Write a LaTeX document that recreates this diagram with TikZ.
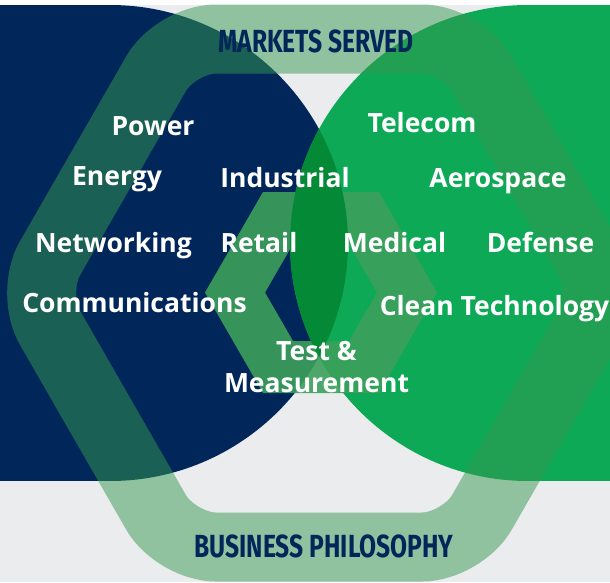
\documentclass[tikz,border=0pt]{standalone}
\usepackage{fontspec}
\setmainfont{Open Sans}
\newfontfamily\headfont{Fira Sans}[FakeStretch=0.77]
\definecolor{navyblue}{HTML}{01275A}
\definecolor{brightgreen}{HTML}{0DA957}
\definecolor{lensgreen}{HTML}{048A37}
\definecolor{ringgreen}{HTML}{369951}
\definecolor{hexgreen}{HTML}{3CA05C}
\definecolor{paper}{HTML}{EBECEE}
\tikzset{
  market/.style={text=white, font=\fontsize{26.5}{26.5}\selectfont\bfseries, inner sep=0pt, anchor=base},
  heading/.style={text=navyblue, font=\headfont\fontsize{32}{32}\selectfont\bfseries, inner sep=0pt, anchor=base},
}
\begin{document}
\begin{tikzpicture}[x=1pt, y=-1pt]
  \useasboundingbox (0,0) rectangle (610,582);
  % page and backdrop
  \fill[white] (0,0) rectangle (610,582);
  \fill[paper] (0,5) rectangle (610,582);

  % the two half-discs
  \begin{scope}
    \clip (0,5) rectangle (610,480);
    \fill[navyblue] (110,243) circle (238pt);
    \fill[navyblue] (0,0) rectangle (110,490);
    \fill[brightgreen] (528,243) circle (238pt);
    \fill[brightgreen] (528,0) rectangle (610,490);
  \end{scope}

  % large translucent hexagonal ring
  \draw[ringgreen, draw opacity=0.5, line width=69pt, rounded corners=40pt]
    (319,39) -- (462,39) -- (608,293) -- (462,547) -- (176,547) -- (30,293) -- (176,39) -- cycle;

  % small hexagonal ring in the middle
  \fill[hexgreen, fill opacity=0.9, even odd rule]
    (205,292.5) -- (263,192) -- (379,192) -- (437,292.5) -- (379,393) -- (263,393) -- cycle
    (265,292.5) -- (293,244) -- (349,244) -- (377,292.5) -- (349,341) -- (293,341) -- cycle;

  % overlap of the two discs
  \begin{scope}
    \clip (110,243) circle (238pt);
    \fill[lensgreen] (528,243) circle (238pt);
  \end{scope}

  % headings
  \node[heading] (markets) at (316,52) {MARKETS SERVED};
  \node[heading] (philosophy) at (324,557) {BUSINESS PHILOSOPHY};

  % markets
  \node[market] (power) at (153,135) {Power};
  \node[market] (telecom) at (422,132) {Telecom};
  \node[market] (energy) at (117,185) {Energy};
  \node[market] (industrial) at (285,187) {Industrial};
  \node[market] (aerospace) at (498,187) {Aerospace};
  \node[market] (networking) at (113.5,252) {Networking};
  \node[market] (retail) at (259,252) {Retail};
  \node[market] (medical) at (394.5,252) {Medical};
  \node[market] (defense) at (540.5,252) {Defense};
  \node[market] (comms) at (134.5,312) {Communications};
  \node[market] (clean) at (494.5,315) {Clean Technology};
  \node[market] (test) at (316.5,360) {Test \&};
  \node[market] (measure) at (316.5,392) {Measurement};
\end{tikzpicture}
\end{document}
